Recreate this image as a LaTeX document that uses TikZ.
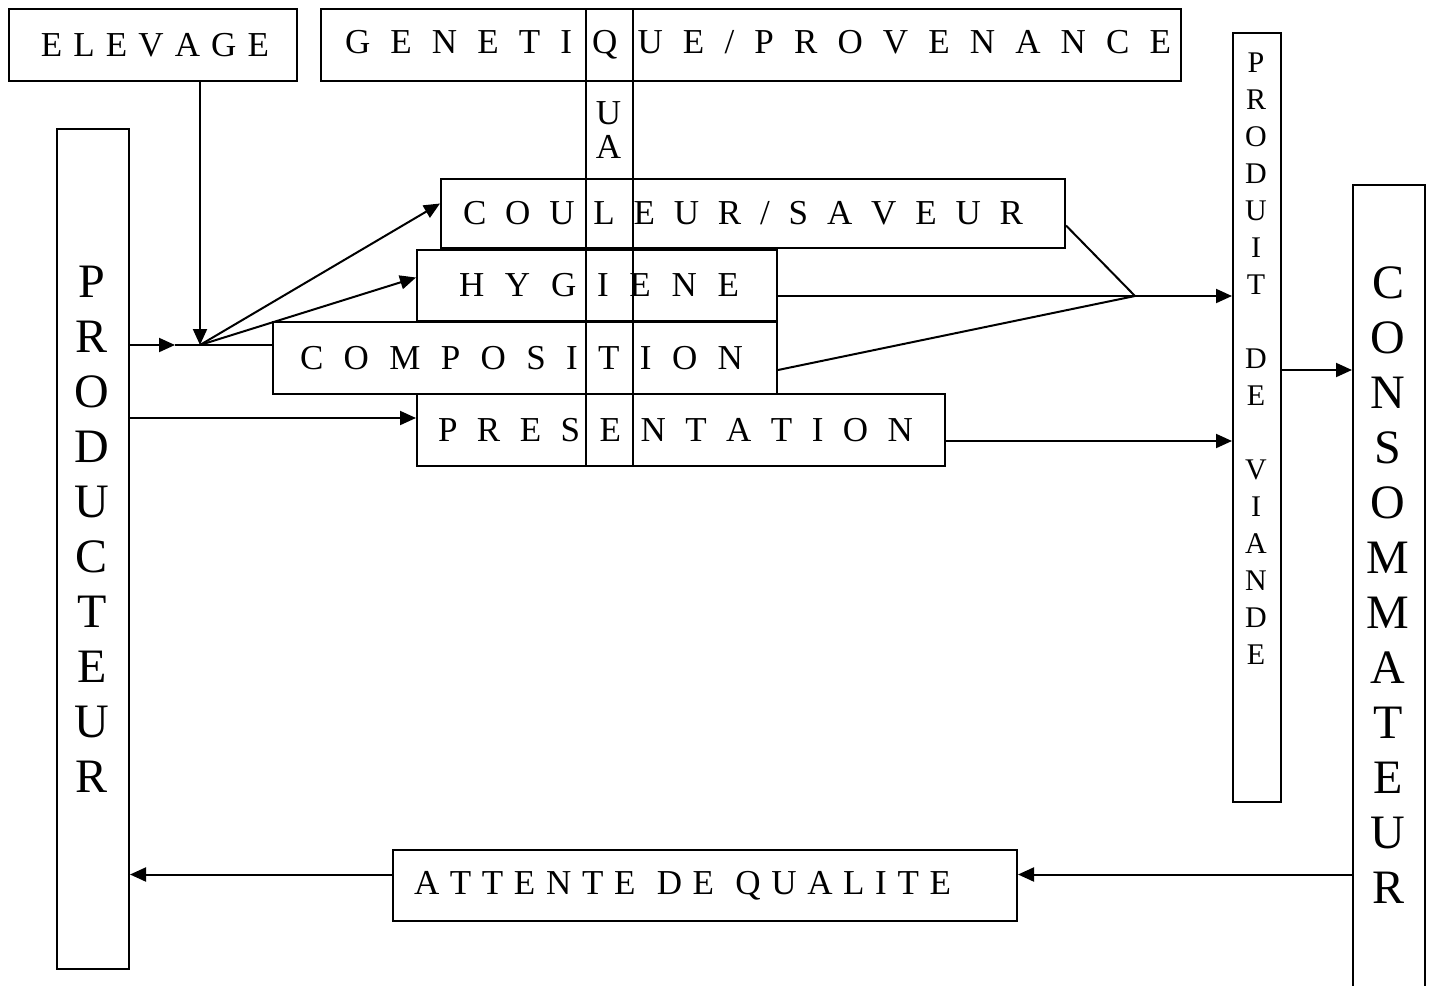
\documentclass[tikz,border=0pt]{standalone}
\usepackage{fontspec}
\setmainfont{Liberation Serif}
\usetikzlibrary{arrows.meta,positioning}
\newdimen\px \px=0.5pt
\hbadness=10000
% box width, left pad, text width, letters
\newcommand{\spaced}[4]{\hbox to #1\px{\hspace*{#2\px}\makebox[#3\px][s]{#4}\hss}}

\begin{document}
\begin{tikzpicture}[x=0.5pt, y=-0.5pt, line width=1pt,
    box/.style={draw, anchor=north west, inner sep=0pt, font=\fontsize{17.5}{21}\selectfont},
    tall/.style={align=center, inner sep=0pt, font=\fontsize{24}{27.5}\selectfont},
    slim/.style={align=center, inner sep=0pt, font=\fontsize{15}{18.5}\selectfont},
    flow/.style={-{Triangle[length=8pt,width=7pt]}}
  ]
  \useasboundingbox (0,0) rectangle (1432,986);

  % top row and quality column
  \node[box, minimum width=144pt, minimum height=36pt] (elev) at (8,8) {\spaced{288}{32}{228}{E L E V A G E}};
  \node[box, minimum width=430pt, minimum height=36pt] (gene) at (320,8) {\spaced{860}{24}{826}{G E N E T I Q U E / P R O V E N A N C E}};
  \node[box, minimum width=23.5pt, minimum height=228.5pt] (qual) at (585,8) {};
  \node[align=center, inner sep=0pt, font=\fontsize{17.5}{17}\selectfont] (qualtxt) at (608.5,130) {U\\A};

  % criteria
  \node[box, minimum width=312pt, minimum height=34.5pt] (coul) at (440,178) {\spaced{624}{22}{560}{C O U L E U R / S A V E U R}};
  \node[box, minimum width=180pt, minimum height=35.5pt] (hyg) at (416,249) {\spaced{360}{42}{280}{H Y G I E N E}};
  \node[box, minimum width=252pt, minimum height=36pt] (comp) at (272,321) {\spaced{504}{27}{443}{C O M P O S I T I O N}};
  \node[box, minimum width=264pt, minimum height=36pt] (pres) at (416,393) {\spaced{528}{21}{475}{P R E S E N T A T I O N}};

  % actors
  \node[box, minimum width=36pt, minimum height=420pt] (prod) at (56,128) {};
  \node[tall] (prodtxt) at (92,529.5) {P\\R\\O\\D\\U\\C\\T\\E\\U\\R};
  \node[box, minimum width=24pt, minimum height=384.5pt] (viande) at (1232,32) {};
  \node[slim] (viandetxt) at (1256,359) {P\\R\\O\\D\\U\\I\\T\\~\\D\\E\\~\\V\\I\\A\\N\\D\\E};
  \node[box, minimum width=36pt, minimum height=420pt] (cons) at (1352,184) {};
  \node[tall] (constxt) at (1388,585.5) {C\\O\\N\\S\\O\\M\\M\\A\\T\\E\\U\\R};
  \node[box, minimum width=312pt, minimum height=35.5pt] (att) at (392,849) {\spaced{624}{21}{537}{A T T E N T E\ \ D E\ \ Q U A L I T E}};

  % connectors
  \coordinate (hub) at (200,345);
  \coordinate (feed) at (175,345);
  \coordinate (merge) at (1135,296);
  \coordinate (presin) at ([yshift=6pt]pres.west);
  \coordinate (presout) at ([yshift=-5.5pt]pres.east);
  \coordinate (viandeout) at ([yshift=23.75pt]viande.east);
  \coordinate (attin) at ([yshift=5.5pt]att.east);
  \coordinate (attout) at ([yshift=5.5pt]att.west);

  \draw[flow] (hub |- elev.south) -- (hub);
  \draw[flow] (feed -| prod.east) -- (feed);
  \draw (feed) -- (feed -| comp.west);
  \draw[flow] (hub) -- ([yshift=5pt]coul.west);
  \draw[flow] (hub) -- ([yshift=4pt]hyg.west);
  \draw[flow] (presin -| prod.east) -- (presin);
  \draw ([yshift=-6pt]coul.east) -- (merge);
  \draw ([yshift=-6pt]comp.east) -- (merge);
  \draw[flow] (merge -| hyg.east) -- (merge -| viande.west);
  \draw[flow] (presout) -- (presout -| viande.west);
  \draw[flow] (viandeout) -- (viandeout -| cons.west);
  \draw[flow] (attin -| cons.west) -- (attin);
  \draw[flow] (attout) -- (attout -| prod.east);
\end{tikzpicture}
\end{document}
